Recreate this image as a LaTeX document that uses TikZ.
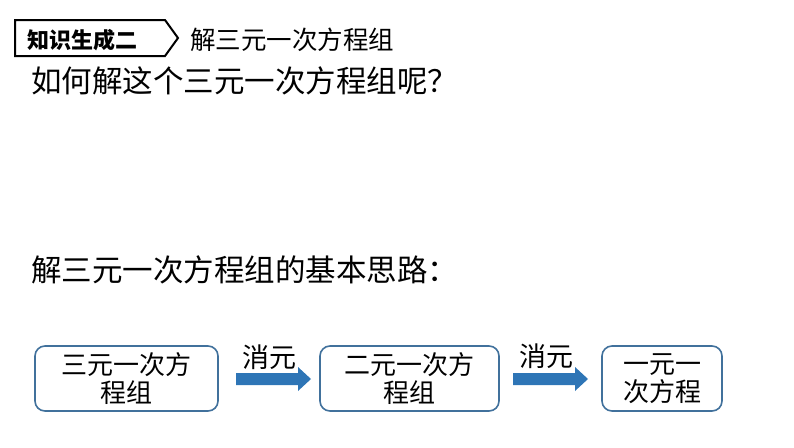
\documentclass[tikz,border=0pt]{standalone}
\usepackage{fontspec}
\setmainfont{Noto Sans CJK SC}
\usetikzlibrary{shapes.arrows}
\definecolor{boxblue}{RGB}{65,113,156}
\definecolor{arrowblue}{RGB}{46,117,182}
\tikzset{
  flowbox/.style={draw=boxblue, line width=1.6pt, rounded corners=10pt, minimum height=65pt, inner sep=0pt},
  flowtext/.style={font=\fontsize{26}{28}\selectfont, align=center},
  labeltext/.style={font=\fontsize{25.5}{28}\selectfont, anchor=west, inner sep=0pt},
  bigtext/.style={font=\fontsize{30.5}{32}\selectfont, anchor=west, inner sep=0pt},
  edgetext/.style={font=\fontsize{27}{30}\selectfont},
  fatarrow/.style={fill=arrowblue, draw=none}
}
\begin{document}
\begin{tikzpicture}[x=1pt,y=-1pt]
\useasboundingbox (0,0) rectangle (794,447);
% heading tag
\draw[line width=2pt, line join=miter] (15,20) -- (165,20) -- (178,38) -- (165,56) -- (15,56) -- cycle;
\node[labeltext, font=\fontsize{22}{26}\selectfont\bfseries] (tag) at (27,40) {知识生成二};
\node[labeltext] (title) at (190,40) {解三元一次方程组};
\node[bigtext] (q) at (31,81) {如何解这个三元一次方程组呢？};
\node[bigtext] (idea) at (31,270) {解三元一次方程组的基本思路：};
% boxes
\node[flowbox, minimum width=183pt] (b1) at (126.5,378.5) {};
\node[flowtext] (b1t) at (b1.center) {三元一次方\\[0pt]程组};
\node[flowbox, minimum width=179pt] (b2) at (409.5,378.5) {};
\node[flowtext] (b2t) at (b2.center) {二元一次方\\[0pt]程组};
\node[flowbox, minimum width=120pt] (b3) at (662,378.5) {};
\node[flowtext] (b3t) at (b3.center) {一元一\\[0pt]次方程};
% arrows
\fill[fatarrow] (236,373) -- (298,373) -- (298,367) -- (311,379) -- (298,391) -- (298,385) -- (236,385) -- cycle;
\node[edgetext] (e1) at (269,357) {消元};
\fill[fatarrow] (513,373) -- (575,373) -- (575,367) -- (588,379) -- (575,391) -- (575,385) -- (513,385) -- cycle;
\node[edgetext] (e2) at (546,356) {消元};
\end{tikzpicture}
\end{document}
